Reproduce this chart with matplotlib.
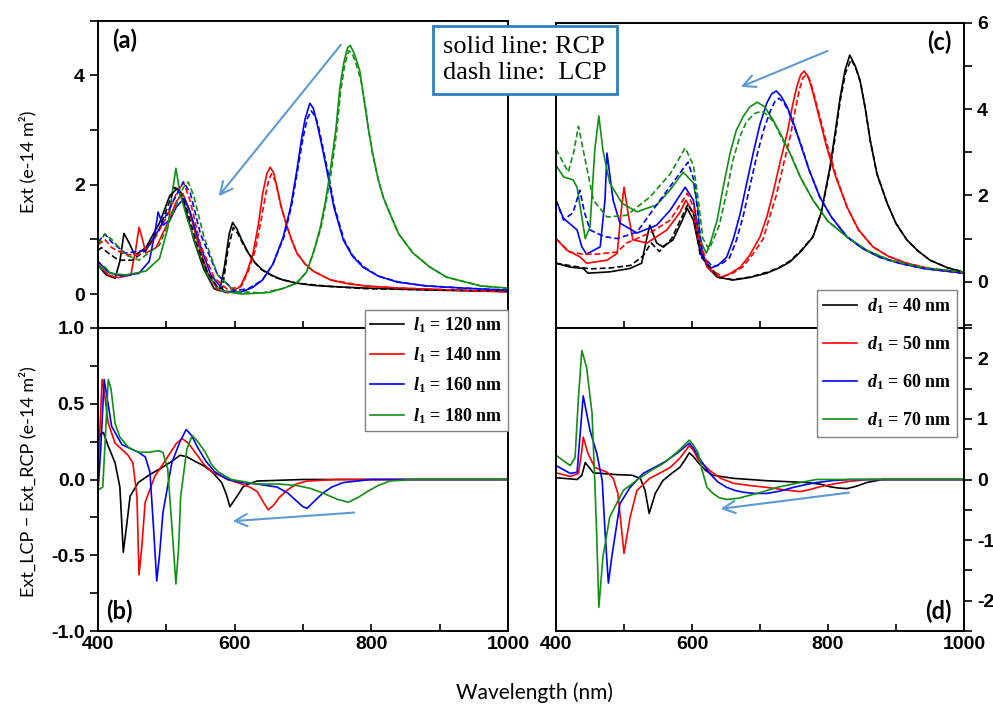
import numpy as np
import matplotlib
matplotlib.use('Agg')
import matplotlib.pyplot as plt
from matplotlib.ticker import MultipleLocator
from matplotlib.font_manager import FontProperties

plt.rcParams['mathtext.fontset'] = 'custom'
plt.rcParams['mathtext.it'] = 'Liberation Serif:italic:bold'
plt.rcParams['mathtext.rm'] = 'Liberation Serif:bold'
plt.rcParams['mathtext.bf'] = 'Liberation Serif:bold'

# ---------------- data (wavelength nm, value) ----------------
# panel (a): Ext, solid = RCP, dashed = LCP, for l1 = 120/140/160/180 nm
a_rcp_120 = [(400,0.53),(412,0.35),(425,0.29),(432,0.6),(438,1.11),(445,0.95),(454,0.71),(470,0.85),
             (490,1.3),(505,1.8),(516,1.93),(525,1.7),(540,1.0),(555,0.45),(570,0.1),(578,0.06),(585,0.5),
             (592,1.1),(597,1.31),(603,1.2),(610,1.0),(620,0.75),(630,0.57),(641,0.44),(655,0.34),(670,0.26),
             (691,0.2),(715,0.16),(740,0.14),(790,0.11),(900,0.07),(1000,0.05)]
a_lcp_120 = [(400,0.8),(405,0.85),(415,0.75),(430,0.62),(450,0.62),(470,0.8),(490,1.2),(505,1.7),(512,1.95),
             (520,1.9),(530,1.55),(545,0.9),(560,0.4),(575,0.12),(582,0.1),(590,0.8),(598,1.22),(605,1.1),
             (612,0.92),(620,0.75),(630,0.57),(640,0.44),(660,0.3),(690,0.2),(740,0.14),(790,0.1),(1000,0.05)]
a_rcp_140 = [(400,0.55),(415,0.35),(430,0.3),(448,0.35),(455,0.8),(460,1.22),(465,1.0),(470,0.75),(485,0.85),
             (500,1.25),(515,1.7),(524,1.84),(532,1.6),(545,1.0),(560,0.4),(575,0.08),(590,0.02),(608,0.13),
             (618,0.4),(627,0.75),(635,1.3),(641,1.84),(647,2.2),(652,2.32),(657,2.22),(662,1.95),(668,1.6),
             (675,1.3),(683,1.0),(691,0.75),(703,0.55),(715,0.42),(740,0.26),(765,0.19),(790,0.15),(840,0.11),
             (1000,0.04)]
a_lcp_140 = [(400,0.9),(410,1.0),(420,0.85),(440,0.72),(460,0.72),(480,0.95),(500,1.4),(515,1.85),(525,2.05),
             (535,1.7),(550,0.9),(570,0.3),(590,0.08),(610,0.15),(620,0.42),(630,0.8),(638,1.3),(645,1.8),
             (650,2.1),(654,2.2),(660,2.05),(667,1.65),(675,1.3),(683,1.0),(691,0.75),(703,0.55),(715,0.42),
             (740,0.26),(790,0.15),(840,0.11),(1000,0.04)]
a_rcp_160 = [(400,0.6),(415,0.4),(435,0.33),(460,0.38),(475,0.6),(483,1.1),(488,1.5),(495,1.26),(505,1.35),
             (515,1.6),(526,1.75),(535,1.5),(548,0.95),(565,0.35),(585,0.05),(610,0.04),(626,0.12),(641,0.26),
             (656,0.55),(671,1.04),(682,1.6),(691,2.26),(698,2.85),(703,3.2),(710,3.49),(715,3.4),(720,3.15),
             (727,2.75),(735,2.26),(745,1.6),(759,0.99),(772,0.7),(788,0.49),(810,0.33),(838,0.22),(880,0.15),
             (934,0.11),(1000,0.07)]
a_lcp_160 = [(400,0.95),(410,1.1),(420,0.95),(440,0.75),(470,0.8),(490,1.2),(510,1.7),(525,2.05),(535,1.85),
             (550,1.1),(575,0.35),(600,0.06),(620,0.1),(640,0.25),(656,0.55),(672,1.04),(683,1.6),(692,2.26),
             (700,2.85),(706,3.2),(712,3.35),(718,3.25),(722,3.1),(728,2.75),(736,2.26),(746,1.6),(760,0.99),
             (773,0.7),(790,0.49),(810,0.33),(840,0.22),(880,0.15),(935,0.11),(1000,0.07)]
a_rcp_180 = [(400,0.55),(405,0.45),(410,0.5),(418,0.38),(440,0.35),(470,0.42),(490,0.65),(502,1.2),(508,1.8),
             (514,2.3),(520,1.85),(530,1.4),(545,0.85),(560,0.35),(580,0.06),(610,0.0),(650,0.03),(670,0.1),
             (691,0.2),(705,0.4),(715,0.75),(725,1.2),(733,1.7),(740,2.26),(748,3.0),(754,3.78),(760,4.25),
             (765,4.5),(769,4.55),(775,4.4),(783,4.09),(790,3.5),(796,3.0),(802,2.57),(810,2.1),(818,1.75),
             (827,1.48),(840,1.1),(861,0.75),(885,0.5),(910,0.31),(960,0.15),(1000,0.11)]
a_lcp_180 = [(400,0.9),(410,1.1),(420,1.0),(440,0.72),(460,0.62),(490,0.9),(510,1.5),(525,1.95),(532,2.05),
             (540,1.8),(555,1.05),(575,0.35),(600,0.05),(640,0.02),(670,0.1),(690,0.2),(705,0.4),(715,0.75),
             (726,1.2),(734,1.7),(741,2.2),(749,2.95),(755,3.7),(761,4.2),(767,4.45),(772,4.4),(778,4.2),
             (785,3.9),(791,3.45),(796,3.0),(802,2.55),(810,2.1),(818,1.75),(827,1.48),(840,1.1),(861,0.75),
             (885,0.5),(910,0.31),(960,0.15),(1000,0.1)]

# panel (b): Ext_LCP - Ext_RCP vs l1
b_120 = [(400,0.25),(404,0.3),(408,0.31),(415,0.22),(425,0.11),(432,-0.05),(437,-0.48),(442,-0.3),(447,-0.11),
         (459,-0.02),(475,0.03),(494,0.08),(508,0.12),(520,0.16),(530,0.15),(542,0.12),(555,0.09),(567,0.05),
         (581,-0.02),(588,-0.1),(593,-0.18),(599,-0.14),(605,-0.1),(612,-0.05),(620,-0.03),(633,-0.01),(700,0.0),
         (1000,0.0)]
b_140 = [(400,0.05),(403,0.35),(406,0.66),(410,0.55),(415,0.37),(425,0.24),(444,0.16),(451,0.11),(457,-0.11),
         (460,-0.63),(464,-0.45),(469,-0.15),(483,0.02),(502,0.15),(515,0.24),(523,0.27),(532,0.24),(542,0.18),
         (555,0.1),(567,0.05),(590,0.0),(610,-0.03),(622,-0.05),(633,-0.08),(642,-0.15),(649,-0.2),(657,-0.17),
         (665,-0.12),(677,-0.07),(690,-0.03),(706,-0.01),(750,0.0),(1000,0.0)]
b_160 = [(400,-0.08),(404,0.2),(409,0.66),(413,0.55),(420,0.35),(435,0.23),(459,0.18),(469,0.15),(476,0.05),
         (481,-0.3),(486,-0.67),(490,-0.5),(495,-0.22),(508,0.11),(520,0.25),(529,0.33),(537,0.29),(546,0.21),
         (558,0.12),(571,0.05),(590,0.0),(610,-0.02),(633,-0.03),(662,-0.05),(678,-0.09),(690,-0.14),(700,-0.18),
         (706,-0.19),(715,-0.15),(729,-0.09),(742,-0.05),(759,-0.02),(800,0.0),(1000,0.0)]
b_180 = [(400,-0.07),(407,-0.05),(411,0.3),(415,0.66),(419,0.6),(425,0.37),(432,0.28),(445,0.21),(459,0.18),
         (475,0.18),(488,0.19),(495,0.18),(502,0.07),(508,-0.3),(514,-0.69),(518,-0.45),(521,-0.11),(530,0.2),
         (538,0.29),(546,0.25),(557,0.18),(566,0.1),(576,0.05),(595,0.0),(633,-0.03),(665,-0.03),(691,-0.04),
         (712,-0.06),(729,-0.09),(750,-0.13),(766,-0.15),(780,-0.12),(794,-0.08),(810,-0.04),(827,-0.01),
         (860,0.0),(1000,0.0)]

# panel (c): Ext, solid = RCP, dashed = LCP, for d1 = 40/50/60/70 nm
c_rcp_40 = [(400,0.43),(421,0.34),(440,0.31),(447,0.2),(479,0.23),(509,0.31),(526,0.43),(532,0.9),(538,1.31),
            (548,0.9),(557,0.81),(572,0.97),(585,1.4),(593,1.7),(602,1.43),(609,0.9),(612,0.73),(625,0.3),
            (637,0.11),(660,0.04),(685,0.1),(710,0.2),(728,0.32),(744,0.46),(760,0.7),(778,1.04),(790,1.6),
            (803,2.66),(810,3.4),(818,4.28),(825,4.9),(832,5.25),(840,5.0),(847,4.67),(855,4.0),(862,3.28),
            (872,2.5),(887,1.82),(900,1.35),(916,0.97),(932,0.72),(950,0.5),(975,0.33),(1000,0.22)]
c_lcp_40 = [(400,0.43),(430,0.35),(450,0.3),(480,0.32),(510,0.38),(528,0.6),(540,0.9),(552,0.7),(570,1.0),
            (594,1.8),(604,1.5),(612,0.6),(640,0.1),(660,0.05),(685,0.11),(710,0.22),(728,0.33),(744,0.48),
            (760,0.72),(778,1.05),(790,1.6),(803,2.6),(810,3.3),(818,4.2),(826,4.85),(834,5.15),(841,4.95),
            (848,4.6),(855,4.0),(862,3.28),(872,2.5),(887,1.82),(900,1.35),(916,0.97),(932,0.72),(950,0.5),
            (975,0.33),(1000,0.22)]
c_rcp_50 = [(400,1.0),(416,0.73),(435,0.58),(445,0.43),(475,0.5),(490,0.66),(496,1.66),(500,2.19),(506,1.59),
            (513,0.97),(534,0.9),(563,1.2),(582,1.6),(591,1.89),(602,1.59),(609,0.97),(622,0.34),(641,0.1),
            (655,0.18),(671,0.34),(685,0.62),(700,1.04),(710,1.5),(719,2.05),(730,2.8),(740,3.44),(748,4.1),
            (754,4.51),(760,4.8),(765,4.88),(771,4.75),(778,4.37),(788,3.75),(798,3.12),(812,2.4),(828,1.73),
            (845,1.2),(866,0.81),(890,0.58),(916,0.43),(950,0.3),(1000,0.2)]
c_lcp_50 = [(400,1.0),(420,0.69),(440,0.64),(460,0.64),(490,0.69),(504,0.9),(538,1.13),(568,1.43),(593,2.05),
            (603,1.7),(610,1.0),(625,0.3),(645,0.12),(660,0.2),(675,0.35),(690,0.65),(705,1.0),(714,1.5),
            (724,2.0),(735,2.75),(745,3.4),(752,4.0),(758,4.45),(763,4.72),(768,4.8),(774,4.65),(780,4.3),
            (790,3.7),(800,3.1),(813,2.4),(828,1.73),(845,1.2),(866,0.81),(890,0.58),(916,0.43),(950,0.3),
            (1000,0.2)]
c_rcp_60 = [(400,1.89),(411,1.47),(431,1.2),(438,0.81),(445,0.64),(465,0.81),(472,1.89),(475,2.98),(484,1.89),
            (494,1.36),(519,1.13),(548,1.31),(568,1.66),(590,2.19),(602,1.89),(609,1.2),(612,0.66),(626,0.31),
            (638,0.38),(651,0.57),(661,1.0),(671,1.59),(680,2.25),(690,2.98),(700,3.65),(710,4.14),(717,4.35),
            (724,4.42),(731,4.3),(740,4.05),(750,3.65),(759,3.21),(772,2.6),(788,1.96),(805,1.5),(828,1.04),
            (850,0.78),(876,0.57),(905,0.43),(940,0.31),(1000,0.2)]
c_lcp_60 = [(400,1.89),(411,1.43),(425,1.6),(435,2.12),(442,1.6),(450,1.2),(470,1.05),(490,1.0),(519,1.15),
            (553,1.89),(594,2.77),(604,2.3),(611,1.2),(616,0.6),(630,0.35),(642,0.4),(655,0.55),(665,0.95),
            (675,1.5),(685,2.2),(695,2.9),(705,3.5),(715,3.95),(722,4.18),(728,4.25),(735,4.15),(742,3.95),
            (750,3.6),(760,3.2),(772,2.6),(788,1.96),(805,1.5),(828,1.04),(850,0.78),(876,0.57),(905,0.43),
            (940,0.31),(1000,0.2)]
c_rcp_70 = [(400,2.7),(411,2.43),(425,2.36),(431,2.19),(443,1.0),(450,1.27),(457,3.05),(463,3.84),(469,3.05),
            (479,2.29),(497,1.82),(519,1.62),(548,1.78),(568,2.13),(587,2.54),(602,2.29),(609,1.66),(612,0.97),
            (621,0.66),(628,0.95),(637,1.43),(646,2.2),(656,2.98),(665,3.5),(675,3.82),(685,4.05),(696,4.16),
            (707,4.05),(719,3.75),(731,3.4),(744,2.98),(760,2.4),(778,1.89),(800,1.4),(828,1.04),(858,0.72),
            (891,0.5),(940,0.33),(1000,0.22)]
c_lcp_70 = [(400,3.07),(418,2.54),(426,3.0),(433,3.6),(443,2.82),(455,1.89),(475,1.5),(504,1.54),(538,1.96),
            (568,2.5),(590,3.1),(602,2.7),(610,1.8),(616,1.0),(625,0.75),(632,1.0),(640,1.3),(650,2.0),
            (660,2.8),(670,3.35),(680,3.7),(692,3.9),(703,3.95),(712,3.85),(722,3.65),(733,3.3),(745,2.95),
            (760,2.4),(778,1.89),(800,1.4),(828,1.04),(858,0.72),(891,0.5),(940,0.33),(1000,0.22)]

# panel (d): Ext_LCP - Ext_RCP vs d1
d_40 = [(400,0.03),(431,0.0),(438,0.07),(443,0.28),(455,0.11),(490,0.08),(512,0.07),(524,0.02),(531,-0.18),
        (537,-0.56),(546,-0.23),(557,-0.02),(570,0.1),(582,0.2),(590,0.33),(596,0.44),(602,0.38),(609,0.28),
        (620,0.15),(631,0.07),(660,0.02),(710,-0.02),(769,-0.05),(790,-0.08),(803,-0.12),(815,-0.14),
        (828,-0.15),(842,-0.11),(857,-0.05),(880,0.0),(1000,0.0)]
d_50 = [(400,0.11),(421,0.05),(433,0.1),(438,0.48),(440,0.7),(447,0.43),(457,0.2),(475,0.12),(484,0.02),
        (491,-0.23),(500,-1.22),(509,-0.62),(519,-0.18),(538,0.02),(555,0.12),(568,0.2),(582,0.35),(596,0.56),
        (602,0.48),(609,0.33),(626,0.15),(642,0.02),(660,-0.06),(685,-0.1),(710,-0.13),(735,-0.17),
        (759,-0.2),(772,-0.17),(788,-0.12),(810,-0.07),(832,-0.03),(860,0.0),(1000,0.0)]
d_60 = [(400,0.23),(421,0.1),(431,0.12),(440,1.38),(450,0.81),(460,0.43),(468,-0.02),(472,-0.84),(477,-1.71),
        (482,-1.28),(494,-0.4),(509,-0.13),(528,0.1),(545,0.2),(563,0.31),(580,0.45),(596,0.6),(602,0.52),
        (609,0.38),(626,0.1),(638,-0.04),(651,-0.13),(663,-0.18),(675,-0.21),(692,-0.23),(710,-0.23),
        (730,-0.19),(749,-0.13),(765,-0.09),(783,-0.05),(805,-0.02),(832,0.0),(1000,0.0)]
d_70 = [(400,0.4),(421,0.23),(428,0.36),(433,1.35),(438,2.13),(445,1.85),(453,1.09),(457,-0.02),(460,-0.96),
        (463,-2.11),(469,-1.28),(479,-0.62),(499,-0.18),(524,0.03),(540,0.15),(557,0.26),(578,0.45),(596,0.65),
        (602,0.57),(609,0.44),(615,0.15),(622,-0.13),(631,-0.23),(640,-0.3),(651,-0.33),(668,-0.31),
        (685,-0.26),(705,-0.2),(725,-0.13),(742,-0.09),(759,-0.05),(783,0.0),(1000,0.0)]

l1_labels = ['120', '140', '160', '180']
d1_labels = ['40', '50', '60', '70']
colors = ['black', '#ff0000', '#0000ff', '#109010']

# ---------------- figure ----------------
W, H = 993, 711
fig = plt.figure(figsize=(W / 100, H / 100), dpi=100)

def fx(px):
    return px / W

def fy(py):
    return 1 - py / H

ax_a = fig.add_axes([fx(98), fy(328), fx(508) - fx(98), fy(20.7) - fy(328)])
ax_c = fig.add_axes([fx(556), fy(328), fx(964) - fx(556), fy(22.7) - fy(328)])
ax_b = fig.add_axes([fx(98), fy(631), fx(508) - fx(98), fy(328) - fy(631)])
ax_d = fig.add_axes([fx(556), fy(631), fx(964) - fx(556), fy(328) - fy(631)])

tick_fp = FontProperties(family='Liberation Sans', weight='bold', size=14)
dash = (0, (3.5, 1.8))
lw = 1.2

def draw(ax, pts, color, ls='-', label=None):
    arr = np.array(pts)
    ax.plot(arr[:, 0], arr[:, 1], color=color, lw=lw, ls=ls, label=label)

for pts, c in zip([a_rcp_120, a_rcp_140, a_rcp_160, a_rcp_180], colors):
    draw(ax_a, pts, c)
for pts, c in zip([a_lcp_120, a_lcp_140, a_lcp_160, a_lcp_180], colors):
    draw(ax_a, pts, c, dash)
for pts, c in zip([c_rcp_40, c_rcp_50, c_rcp_60, c_rcp_70], colors):
    draw(ax_c, pts, c)
for pts, c in zip([c_lcp_40, c_lcp_50, c_lcp_60, c_lcp_70], colors):
    draw(ax_c, pts, c, dash)

for pts, c, lab in zip([b_120, b_140, b_160, b_180], colors, l1_labels):
    draw(ax_b, pts, c, label=r'$l_1$ = ' + lab + ' nm')
for pts, c, lab in zip([d_40, d_50, d_60, d_70], colors, d1_labels):
    draw(ax_d, pts, c, label=r'$d_1$ = ' + lab + ' nm')

ax_a.set_ylim(-0.62, 5.0)
ax_b.set_ylim(-1.0, 1.0)
ax_c.set_ylim(-1.07, 6.0)
ax_d.set_ylim(-2.5, 2.5)

for ax in [ax_a, ax_b, ax_c, ax_d]:
    ax.set_xlim(400, 1000)
    ax.xaxis.set_major_locator(MultipleLocator(200))
    ax.xaxis.set_minor_locator(MultipleLocator(100))
    ax.tick_params(axis='x', which='both', direction='in', length=5, width=1.2, top=False)
    ax.tick_params(axis='y', which='both', direction='out', length=6, width=1.2)
    for s in ax.spines.values():
        s.set_linewidth(1.4)

for ax in [ax_a, ax_c]:
    ax.tick_params(axis='x', labelbottom=False)

ax_a.yaxis.set_major_locator(MultipleLocator(2))
ax_a.yaxis.set_minor_locator(MultipleLocator(1))
ax_b.yaxis.set_minor_locator(MultipleLocator(0.25))
ax_b.set_yticks([-1.0, -0.5, 0.0, 0.5, 1.0])
ax_b.set_yticklabels(['-1.0', '-0.5', '0.0', '0.5', '1.0'])
ax_c.yaxis.set_major_locator(MultipleLocator(2))
ax_c.yaxis.set_minor_locator(MultipleLocator(1))
ax_d.yaxis.set_minor_locator(MultipleLocator(0.5))
ax_d.set_yticks([-2, -1, 0, 1, 2])
ax_d.set_yticklabels(['-2', '-1', '0', '1', '2'])

for ax in [ax_c, ax_d]:
    ax.yaxis.tick_right()
    ax.tick_params(axis='y', which='both', left=False, right=True)

for ax in [ax_a, ax_b, ax_c, ax_d]:
    for t in ax.get_xticklabels() + ax.get_yticklabels():
        t.set_fontproperties(tick_fp)

# panel letters
lab_font = dict(family='Lato', weight='bold', size=17)
ax_a.text(0.035, 0.91, '(a)', transform=ax_a.transAxes, **lab_font)
ax_b.text(0.02, 0.04, '(b)', transform=ax_b.transAxes, **lab_font)
ax_c.text(0.91, 0.91, '(c)', transform=ax_c.transAxes, **lab_font)
ax_d.text(0.905, 0.04, '(d)', transform=ax_d.transAxes, **lab_font)

# arrows
arr_kw = dict(arrowstyle='->', color='#5b9bd5', lw=1.5, mutation_scale=22)
ax_a.annotate('', xy=(574, 1.75), xytext=(758, 4.6), arrowprops=arr_kw)
ax_b.annotate('', xy=(593, -0.276), xytext=(779, -0.217), arrowprops=arr_kw)
ax_c.annotate('', xy=(668, 4.49), xytext=(803, 5.37), arrowprops=arr_kw)
ax_d.annotate('', xy=(638, -0.49), xytext=(835, -0.21), arrowprops=arr_kw)

# legends
leg_font = dict(family='Liberation Serif', weight='bold', size=13)
lb = ax_b.legend(loc='upper right', bbox_to_anchor=(fx(508), fy(310)), bbox_transform=fig.transFigure,
                 prop=leg_font, frameon=True, fancybox=False, edgecolor='#808080', framealpha=1,
                 handlelength=1.9, handletextpad=0.5, labelspacing=0.58, borderpad=0.3, borderaxespad=0)
lb.get_frame().set_linewidth(1.0)
ld = ax_d.legend(loc='upper right', bbox_to_anchor=(fx(957), fy(290)), bbox_transform=fig.transFigure,
                 prop=leg_font, frameon=True, fancybox=False, edgecolor='#808080', framealpha=1,
                 handlelength=1.9, handletextpad=0.5, labelspacing=1.02, borderpad=0.35, borderaxespad=0)
ld.get_frame().set_linewidth(1.0)

# polarization note box
fig.text(fx(443), fy(60), 'solid line: RCP\ndash line:  LCP', family='Liberation Serif', size=19,
         va='center', ha='left', linespacing=1.2,
         bbox=dict(boxstyle='square,pad=0.38', fc='white', ec='#2e7fc0', lw=2))

# axis labels
lbl_font = dict(family='Lato', size=13)
fig.text(fx(28), fy(162), 'Ext (e-14 m²)', rotation=90, ha='center', va='center', **lbl_font)
fig.text(fx(28), fy(482), 'Ext_LCP − Ext_RCP (e-14 m²)', rotation=90, ha='center', va='center', **lbl_font)
fig.text(fx(535), fy(693), 'Wavelength (nm)', ha='center', va='center', family='Lato', size=15)

fig.savefig('out.png', dpi=100)
